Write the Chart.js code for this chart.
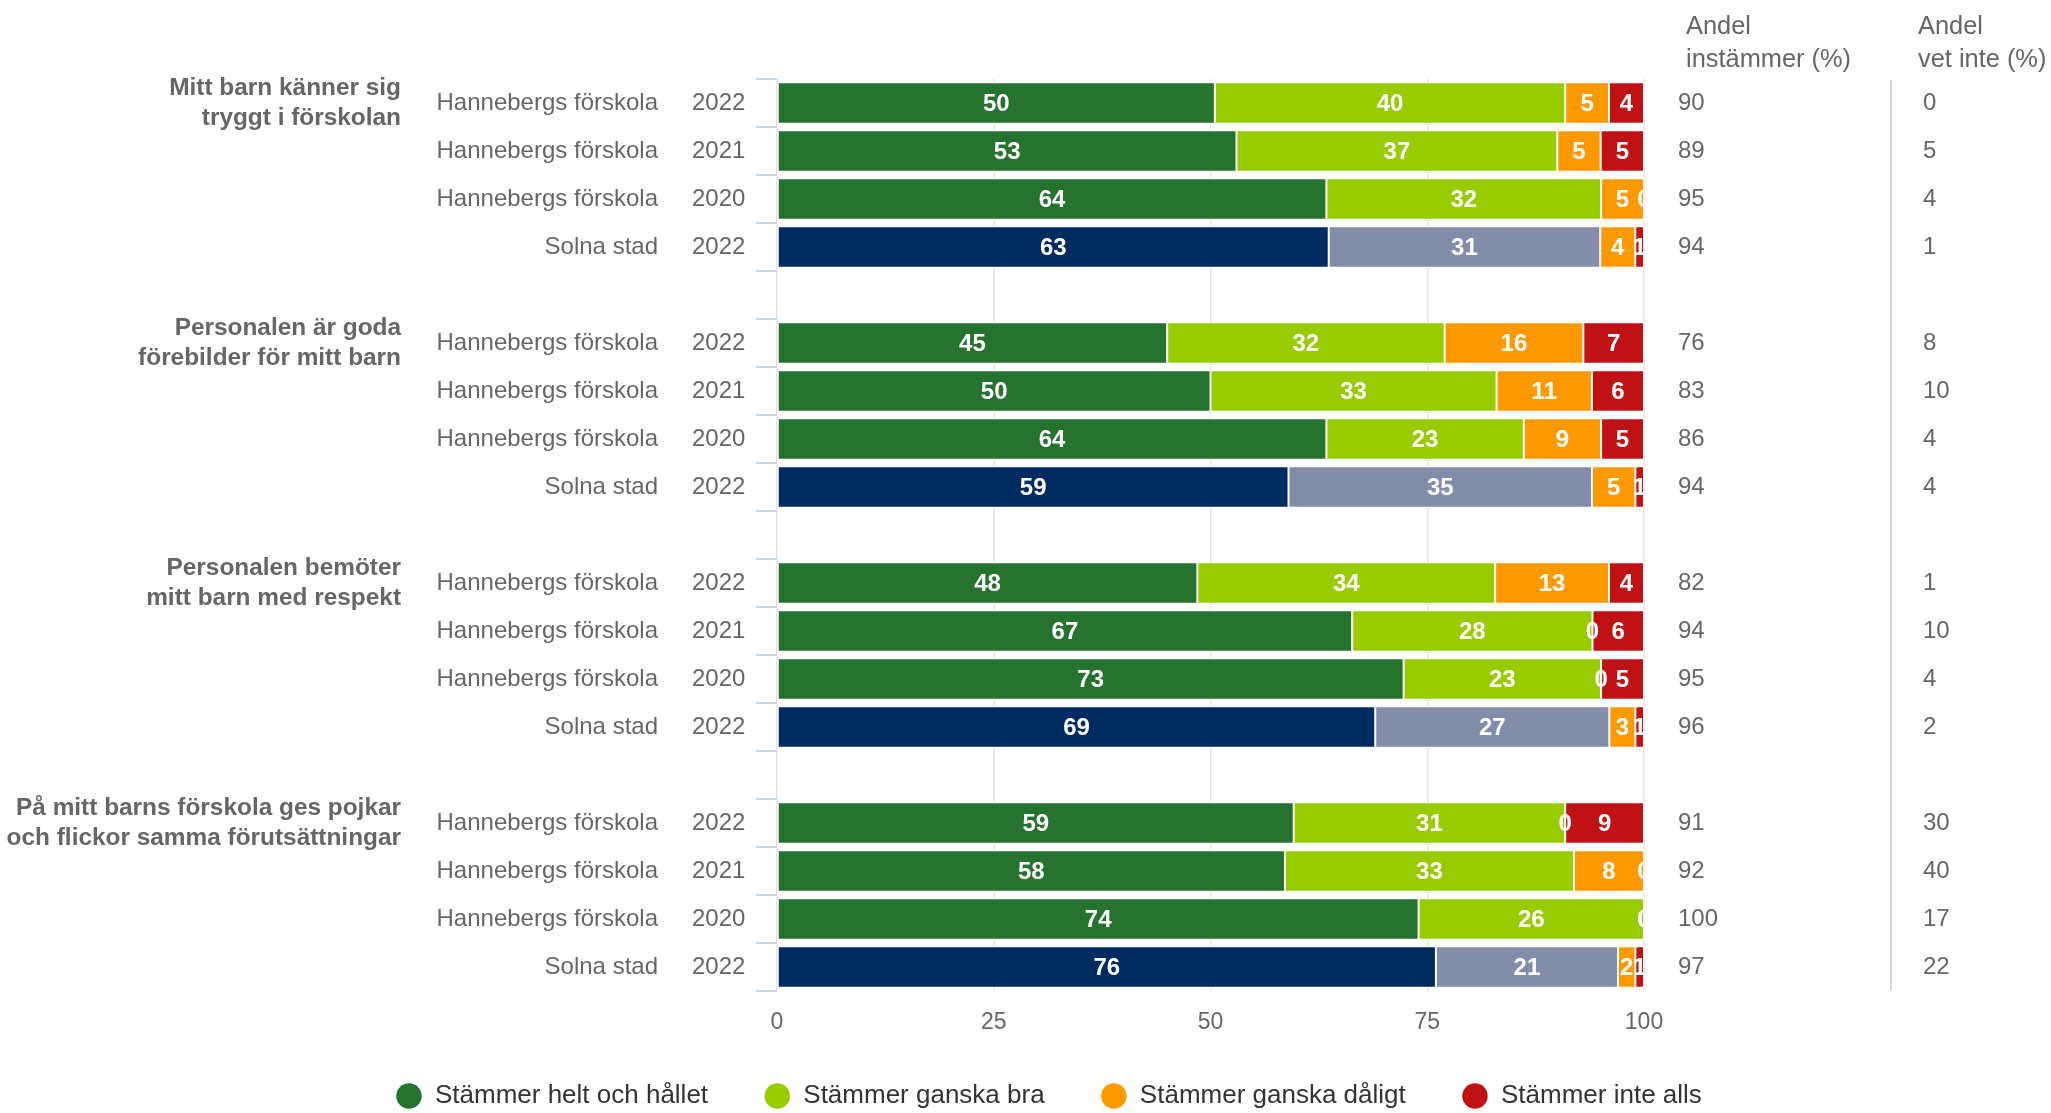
<!DOCTYPE html>
<html lang="sv">
<head>
<meta charset="utf-8">
<title>Enkät förskola</title>
<script src="https://cdn.jsdelivr.net/npm/chart.js@4.4.1/dist/chart.umd.min.js"></script>
<style>
    html, body {
        margin: 0;
        padding: 0;
        background: #fff;
        overflow: hidden;
    }

    .chart-container {
        position: relative;
        width: 2051px;
        height: 1119px;
    }
</style>
</head>
<body onload="onInit()">
<div class="chart-container">
    <canvas id="myChart"></canvas>
</div>

<script>
'use strict'

// frågor (två rader per rubrik)
const groupTitles = [
    ['Mitt barn känner sig', 'tryggt i förskolan'],
    ['Personalen är goda', 'förebilder för mitt barn'],
    ['Personalen bemöter', 'mitt barn med respekt'],
    ['På mitt barns förskola ges pojkar', 'och flickor samma förutsättningar']
]
const rowNames = ['Hannebergs förskola', 'Hannebergs förskola', 'Hannebergs förskola', 'Solna stad']
const rowYears = ['2022', '2021', '2020', '2022']

// svarsandelar, en rad per förskola/år (4 frågor x 4 rader)
const heltOchHallet = [50, 53, 64, 63, 45, 50, 64, 59, 48, 67, 73, 69, 59, 58, 74, 76]
const ganskaBra = [40, 37, 32, 31, 32, 33, 23, 35, 34, 28, 23, 27, 31, 33, 26, 21]
const ganskaDaligt = [5, 5, 5, 4, 16, 11, 9, 5, 13, 0, 0, 3, 0, 8, 0, 2]
const inteAlls = [4, 5, 0, 1, 7, 6, 5, 1, 4, 6, 5, 1, 9, 0, 0, 1]

const andelInstammer = [90, 89, 95, 94, 76, 83, 86, 94, 82, 94, 95, 96, 91, 92, 100, 97]
const andelVetInte = [0, 5, 4, 1, 8, 10, 4, 4, 1, 10, 4, 2, 30, 40, 17, 22]

const xTicks = [0, 25, 50, 75, 100]

const seriesNames = ['Stämmer helt och hållet', 'Stämmer ganska bra', 'Stämmer ganska dåligt', 'Stämmer inte alls']
const seriesColors = ['#25732f', '#99cc00', '#ff9900', '#c01215']
const solnaColors = ['#002b61', '#838ca8', '#ff9900', '#c01215']

const FONT = "'Liberation Sans', Arial, Helvetica, sans-serif"

var gChart

function onInit() {
    Chart.defaults.font.family = FONT
    renderChart()
}

// index i bland de 16 raderna -> kategoriindex (tom rad mellan grupperna)
function rowToCat(i) {
    return i + Math.floor(i / 4)
}

function buildCategories() {
    const cats = []
    groupTitles.forEach((title, g) => {
        rowNames.forEach((name, r) => cats.push(name + ' ' + rowYears[r]))
        if (g < groupTitles.length - 1) cats.push('')
    })
    return cats
}

// procentstaplar: varje rad normeras till 100
function buildSeries(values) {
    const nCats = buildCategories().length
    const res = new Array(nCats).fill(null)
    values.forEach((val, i) => {
        const sum = heltOchHallet[i] + ganskaBra[i] + ganskaDaligt[i] + inteAlls[i]
        res[rowToCat(i)] = val / sum * 100
    })
    return res
}

function buildColors(sIdx) {
    const nCats = buildCategories().length
    const colors = new Array(nCats).fill(seriesColors[sIdx])
    for (let i = 0; i < heltOchHallet.length; i++) {
        if (rowNames[i % 4] === 'Solna stad') colors[rowToCat(i)] = solnaColors[sIdx]
    }
    return colors
}

const allSeries = [heltOchHallet, ganskaBra, ganskaDaligt, inteAlls]

// lite extra luft mellan legendposterna utan att flytta legenden nedåt
function legendLabels(chart) {
    const items = Chart.defaults.plugins.legend.labels.generateLabels(chart)
    items.forEach((item, i) => {
        item.text = seriesNames[i] + ' '
        item.fillStyle = seriesColors[i]
        item.strokeStyle = seriesColors[i]
        item.lineWidth = 0
    })
    return items
}

const sideTextPlugin = {
    id: 'sideText',
    afterDatasetsDraw(chart) {
        const ctx = chart.ctx
        const area = chart.chartArea
        ctx.save()
        ctx.beginPath()
        ctx.rect(area.left, area.top, area.right - area.left, area.bottom - area.top)
        ctx.clip()
        ctx.fillStyle = '#fff'
        ctx.font = 'bold 24px ' + FONT
        ctx.textAlign = 'center'
        ctx.textBaseline = 'middle'
        chart.data.datasets.forEach((ds, dIdx) => {
            const meta = chart.getDatasetMeta(dIdx)
            meta.data.forEach((bar, cIdx) => {
                if (ds.data[cIdx] === null) return
                const rowIdx = cIdx - Math.floor(cIdx / 5)
                const label = allSeries[dIdx][rowIdx]
                ctx.fillText(label, (bar.x + bar.base) / 2, bar.y + 1)
            })
        })
        ctx.restore()
    },
    afterDraw(chart) {
        const ctx = chart.ctx
        const yScale = chart.scales.y
        ctx.save()
        ctx.textBaseline = 'middle'

        // gruppernas rubriker
        ctx.fillStyle = '#666'
        ctx.font = 'bold 24.4px ' + FONT
        ctx.textAlign = 'right'
        groupTitles.forEach((lines, g) => {
            const y = yScale.getPixelForValue(rowToCat(g * 4))
            ctx.fillText(lines[0], 401, y - 15)
            ctx.fillText(lines[1], 401, y + 15)
        })

        // förskola + år, och värdekolumnerna till höger
        ctx.font = '24px ' + FONT
        heltOchHallet.forEach((val, i) => {
            const y = yScale.getPixelForValue(rowToCat(i))
            ctx.textAlign = 'right'
            ctx.fillText(rowNames[i % 4], 658, y)
            ctx.textAlign = 'left'
            ctx.fillText(rowYears[i % 4], 692, y)
            ctx.fillText(andelInstammer[i], 1678, y)
            ctx.fillText(andelVetInte[i], 1923, y)
        })

        // rubriker över kolumnerna
        ctx.font = '25.4px ' + FONT
        ctx.textAlign = 'left'
        ctx.fillText('Andel', 1686, 27)
        ctx.fillText('instämmer (%)', 1686, 60)
        ctx.fillText('Andel', 1918, 27)
        ctx.fillText('vet inte (%)', 1918, 60)

        // skiljelinje
        ctx.strokeStyle = '#ccd6eb'
        ctx.lineWidth = 2
        ctx.beginPath()
        ctx.moveTo(1891, chart.chartArea.top + 1)
        ctx.lineTo(1891, chart.chartArea.bottom - 1)
        ctx.stroke()
        ctx.restore()
    }
}

function renderChart() {
    const ctx = document.getElementById('myChart')
    const categories = buildCategories()

    gChart = new Chart(ctx, {
        type: 'bar',
        data: {
            labels: categories,
            datasets: allSeries.map((values, sIdx) => ({
                label: seriesNames[sIdx],
                data: buildSeries(values),
                backgroundColor: buildColors(sIdx),
                borderColor: '#fff',
                borderWidth: 1,
                borderSkipped: false,
                barPercentage: 0.86,
                categoryPercentage: 1,
                pointStyle: 'circle'
            }))
        },
        options: {
            indexAxis: 'y',
            responsive: true,
            maintainAspectRatio: false,
            animation: false,
            layout: {
                padding: { top: 79, left: 54, right: 0, bottom: 0 }
            },
            scales: {
                x: {
                    stacked: true,
                    min: 0,
                    max: 100,
                    afterBuildTicks: scale => {
                        scale.ticks = xTicks.map(v => ({ value: v }))
                    },
                    afterFit: scale => {
                        scale.height = 43
                    },
                    grid: {
                        color: '#e6e6e6',
                        lineWidth: 1.5,
                        drawTicks: false
                    },
                    border: { display: false },
                    ticks: {
                        color: '#666',
                        padding: 18,
                        font: { size: 23 }
                    }
                },
                y: {
                    stacked: true,
                    afterFit: scale => {
                        scale.width = 723
                    },
                    grid: {
                        offset: true,
                        drawOnChartArea: false,
                        tickLength: 21,
                        color: '#ccd6eb',
                        lineWidth: 2
                    },
                    border: { display: false },
                    ticks: { display: false }
                },
                yRight: {
                    axis: 'y',
                    type: 'category',
                    position: 'right',
                    labels: categories,
                    afterFit: scale => {
                        scale.width = 407
                    },
                    grid: { display: false },
                    border: { display: false },
                    ticks: { display: false }
                }
            },
            plugins: {
                tooltip: { enabled: false },
                legend: {
                    position: 'bottom',
                    onClick: null,
                    labels: {
                        usePointStyle: true,
                        boxWidth: 26,
                        boxHeight: 18,
                        padding: 49,
                        color: '#333',
                        font: { size: 26 },
                        generateLabels: legendLabels
                    }
                }
            }
        },
        plugins: [sideTextPlugin]
    })
}
</script>
</body>
</html>
